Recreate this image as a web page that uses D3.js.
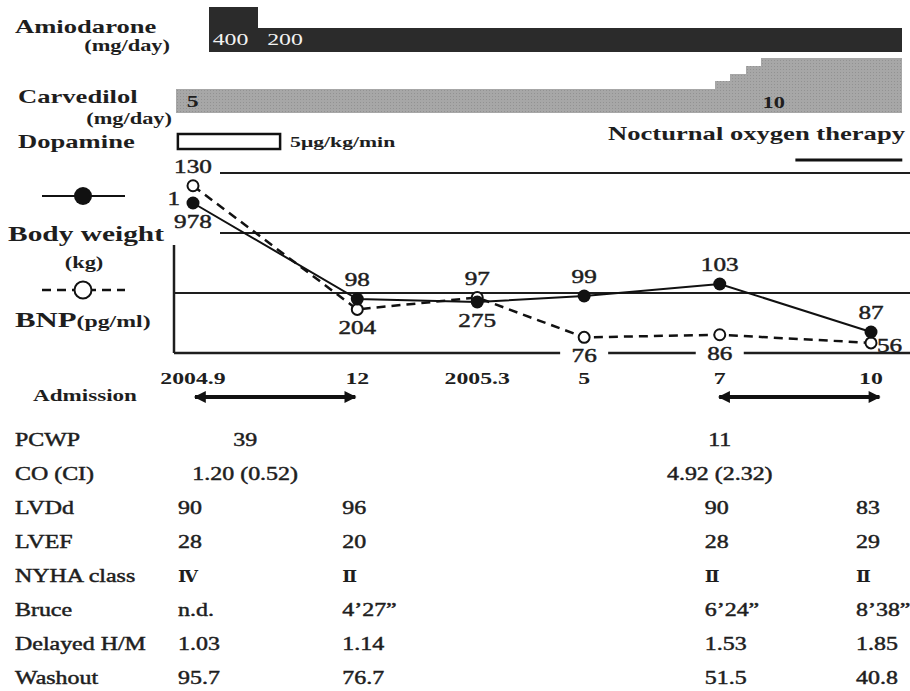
<!DOCTYPE html>
<html>
<head>
<meta charset="utf-8">
<script src="https://cdn.jsdelivr.net/npm/d3@7"></script>
<style>
  body { margin: 0; background: #fff; }
  text { font-family: "Liberation Serif", "Times New Roman", serif; fill: #1e1e1e; }
  text.thick { stroke: #1e1e1e; stroke-width: 0.45px; }
</style>
</head>
<body>
<script>
// visits (months after 2004.9) and labels
var visitMonth = [0, 3.15, 5.45, 7.5, 10.1, 13];
var visitLabel = ["2004.9", "12", "2005.3", "5", "7", "10"];
var bodyWeight = [130, 98, 97, 99, 103, 87];
var bnp = [1978, 204, 275, 76, 86, 56];

// drugs
var amioStart = [0.3, 1.25];
var amioDose = [400, 200];
var carvStart = [-0.33, 10.0, 10.3, 10.6, 10.9];
var carvDose = [5, 6.25, 7.5, 8.75, 10];
var drugEnd = 13.6;
var dopamine = [-0.29, 1.67];
var oxygen = [11.55, 13.6];
var admissions = [[0, 3.15], [10.05, 13.2]];

// table
var rowNames = ["PCWP", "CO (CI)", "LVDd", "LVEF", "NYHA class", "Bruce", "Delayed H/M", "Washout"];
var hemoMonth = [1, 10.1];
var pcwp = ["39", "11"];
var coci = ["1.20 (0.52)", "4.92 (2.32)"];
var echoVisit = [0, 1, 4, 5];
var lvdd = ["90", "96", "90", "83"];
var lvef = ["28", "20", "28", "29"];
var nyha = ["\u2163", "\u2161", "\u2161", "\u2161"];
var bruce = ["n.d.", "4\u201927\u201d", "6\u201924\u201d", "8\u201938\u201d"];
var delayedHM = ["1.03", "1.14", "1.53", "1.85"];
var washout = ["95.7", "76.7", "51.5", "40.8"];

var w = 910, h = 691;
var sx = 1.4; // the lettering in the figure is wide

var svg = d3.select("body").append("svg")
  .attr("width", w)
  .attr("height", h);

var defs = svg.append("defs");
var pat = defs.append("pattern")
  .attr("id", "grain")
  .attr("width", 3).attr("height", 3)
  .attr("patternUnits", "userSpaceOnUse");
pat.append("rect").attr("width", 3).attr("height", 3).attr("fill", "#a7a7a7");
pat.append("rect").attr("width", 1).attr("height", 1).attr("fill", "#929292");

defs.append("marker")
  .attr("id", "head")
  .attr("viewBox", "0 0 10 10")
  .attr("refX", 9).attr("refY", 5)
  .attr("markerWidth", 14).attr("markerHeight", 12)
  .attr("markerUnits", "userSpaceOnUse")
  .attr("orient", "auto-start-reverse")
  .append("path")
  .attr("d", "M0,0L10,5L0,10Z")
  .attr("fill", "#111");

function label(x, y, s, o) {
  o = o || {};
  return svg.append("text")
    .attr("class", o.weight == "bold" || o.fill ? null : "thick")
    .attr("transform", "translate(" + x + "," + y + ") scale(" + (o.sx || sx) + ",1)")
    .attr("font-size", o.size || 17)
    .attr("font-weight", o.weight || "normal")
    .attr("text-anchor", o.anchor || "start")
    .style("fill", o.fill || null)
    .style("font-family", o.family || null)
    .text(s);
}

// scales
var x = d3.scaleLinear().domain([0, 13]).range([193, 871]);
var yW = d3.scaleLinear().domain([80, 140]).range([353, 173]);
var yB = d3.scaleSymlog().constant(200).domain([0, 2000]).range([361, 185]);
var amioY = d3.scaleLinear().domain([200, 400]).range([28, 7]);
var amioBase = 52;
var carvY = d3.scaleLinear().domain([5, 10]).range([89, 58]);
var carvBase = 113;
var rowY = d3.scalePoint().domain(rowNames).range([446, 684]);

// ---- drug bars ----
label(15, 33, "Amiodarone", {size: 19, weight: "bold"});
label(170, 51, "(mg/day)", {size: 16, weight: "bold", anchor: "end"});
label(18, 103, "Carvedilol", {size: 19, weight: "bold"});
label(172, 124, "(mg/day)", {size: 16, weight: "bold", anchor: "end"});
label(18, 148, "Dopamine", {size: 19, weight: "bold"});

svg.selectAll(".amio")
  .data(amioDose)
  .enter().append("rect")
  .attr("class", "amio")
  .attr("x", function(d, i) { return x(amioStart[i]); })
  .attr("width", function(d, i) { return x(i < amioStart.length - 1 ? amioStart[i + 1] : drugEnd) - x(amioStart[i]); })
  .attr("y", function(d) { return amioY(d); })
  .attr("height", function(d) { return amioBase - amioY(d); })
  .attr("fill", "#2b2b2b")
  .attr("shape-rendering", "crispEdges");

amioDose.forEach(function(d, i) {
  label(x(amioStart[i]) + (i ? 9 : 4), 45, d, {size: 17, fill: "#f2f2f2"});
});

svg.selectAll(".carv")
  .data(carvDose)
  .enter().append("rect")
  .attr("class", "carv")
  .attr("x", function(d, i) { return x(carvStart[i]); })
  .attr("width", function(d, i) { return x(i < carvStart.length - 1 ? carvStart[i + 1] : drugEnd) - x(carvStart[i]); })
  .attr("y", function(d) { return carvY(d); })
  .attr("height", function(d) { return carvBase - carvY(d); })
  .attr("fill", "url(#grain)")
  .attr("shape-rendering", "crispEdges");

label(x(carvStart[0]) + 11, 107, carvDose[0], {size: 17, weight: "bold"});
label(x(carvStart[carvStart.length - 1]) + 1, 108, carvDose[carvDose.length - 1], {size: 16, weight: "bold"});

svg.append("rect")
  .attr("x", x(dopamine[0]))
  .attr("y", 134)
  .attr("width", x(dopamine[1]) - x(dopamine[0]))
  .attr("height", 15)
  .attr("fill", "#fff")
  .attr("stroke", "#111")
  .attr("stroke-width", 2.5);
label(x(dopamine[1]) + 10, 147, "5\u03bcg/kg/min", {size: 14, weight: "bold", sx: 1.55});

label(905, 140, "Nocturnal oxygen therapy", {size: 19, weight: "bold", anchor: "end"});
svg.append("line")
  .attr("x1", x(oxygen[0])).attr("x2", x(oxygen[1]))
  .attr("y1", 160).attr("y2", 160)
  .attr("stroke", "#111").attr("stroke-width", 3);

// ---- chart frame ----
[140, 120, 100, 80].forEach(function(v) {
  svg.append("line")
    .attr("x1", v > 100 ? 220 : 174).attr("x2", w)
    .attr("y1", yW(v)).attr("y2", yW(v))
    .attr("stroke", "#1e1e1e").attr("stroke-width", v == 80 ? 2.5 : 2);
});
svg.append("line")
  .attr("x1", 174).attr("x2", 174)
  .attr("y1", 245).attr("y2", yW(80))
  .attr("stroke", "#1e1e1e").attr("stroke-width", 2.5);

// legend
svg.append("line").attr("x1", 42).attr("x2", 125).attr("y1", 196).attr("y2", 196)
  .attr("stroke", "#111").attr("stroke-width", 2);
svg.append("circle").attr("cx", 83).attr("cy", 196).attr("r", 9).attr("fill", "#111");
label(86, 241, "Body weight", {size: 21, weight: "bold", anchor: "middle"});
label(84, 268, "(kg)", {size: 16, weight: "bold", anchor: "middle"});
svg.append("line").attr("x1", 42).attr("x2", 125).attr("y1", 290).attr("y2", 290)
  .attr("stroke", "#111").attr("stroke-width", 2.5).attr("stroke-dasharray", "9,6");
svg.append("circle").attr("cx", 83).attr("cy", 290).attr("r", 8.5)
  .attr("fill", "#fff").attr("stroke", "#111").attr("stroke-width", 2);
var bnpLab = svg.append("text")
  .attr("transform", "translate(15,327) scale(" + sx + ",1)")
  .attr("font-weight", "bold");
bnpLab.append("tspan").attr("font-size", 22).text("BNP");
bnpLab.append("tspan").attr("font-size", 17).text("(pg/ml)");

// x labels
visitLabel.forEach(function(d, i) {
  label(x(visitMonth[i]), 384, d, {size: 17, weight: "bold", anchor: "middle"});
});

// series
var pts = visitMonth.map(function(m, i) { return {m: m, w: bodyWeight[i], b: bnp[i]}; });

svg.append("path")
  .datum(pts)
  .attr("fill", "none")
  .attr("stroke", "#111")
  .attr("stroke-width", 2.5)
  .attr("stroke-dasharray", "9,6")
  .attr("d", d3.line().x(function(d) { return x(d.m); }).y(function(d) { return yB(d.b); }));

svg.append("path")
  .datum(pts)
  .attr("fill", "none")
  .attr("stroke", "#111")
  .attr("stroke-width", 2)
  .attr("d", d3.line().x(function(d) { return x(d.m); }).y(function(d) { return yW(d.w); }));

svg.selectAll(".bnp")
  .data(pts)
  .enter().append("circle")
  .attr("class", "bnp")
  .attr("cx", function(d) { return x(d.m); })
  .attr("cy", function(d) { return yB(d.b); })
  .attr("r", 5.5)
  .attr("fill", "#fff")
  .attr("stroke", "#111")
  .attr("stroke-width", 2);

svg.selectAll(".bw")
  .data(pts)
  .enter().append("circle")
  .attr("class", "bw")
  .attr("cx", function(d) { return x(d.m); })
  .attr("cy", function(d) { return yW(d.w); })
  .attr("r", 6.5)
  .attr("fill", "#111");

// value labels
pts.forEach(function(d, i) {
  var px = x(d.m);
  var top = Math.min(yW(d.w), yB(d.b));
  var bottom = Math.max(yW(d.w), yB(d.b));
  label(px, top - 13, d.w, {size: 18, anchor: "middle"});

  var s = String(d.b);
  if (i == pts.length - 1) {
    label(px + 6, yB(d.b) + 9, s, {size: 18});
    return;
  }
  if (s.length > 3) {
    label(px - 13, yW(d.w) + 2, s.slice(0, 1), {size: 18, anchor: "end"});
    s = s.slice(1);
  }
  var by = bottom + 25;
  if (by - 14 < yW(80) && by > yW(80)) {
    svg.append("rect")
      .attr("x", px - 24).attr("y", by - 15)
      .attr("width", 48).attr("height", 17)
      .attr("fill", "#fff");
  }
  label(px, by, s, {size: 18, anchor: "middle"});
});

// admission arrows
label(33, 401, "Admission", {size: 16.5, weight: "bold"});
admissions.forEach(function(a) {
  svg.append("line")
    .attr("x1", x(a[0]) + 2).attr("x2", x(a[1]) - 2)
    .attr("y1", 397).attr("y2", 397)
    .attr("stroke", "#111").attr("stroke-width", 4)
    .attr("marker-start", "url(#head)")
    .attr("marker-end", "url(#head)");
});

// ---- table ----
var tsize = 18, tsx = 1.33;
rowNames.forEach(function(r) {
  label(15, rowY(r), r, {size: tsize, sx: tsx});
});

pcwp.forEach(function(v, i) {
  label(x(hemoMonth[i]), rowY("PCWP"), v, {size: tsize, sx: tsx, anchor: "middle"});
});
coci.forEach(function(v, i) {
  label(x(hemoMonth[i]), rowY("CO (CI)"), v, {size: tsize, sx: tsx, anchor: "middle"});
});

var echoRows = [["LVDd", lvdd], ["LVEF", lvef], ["NYHA class", nyha], ["Bruce", bruce],
  ["Delayed H/M", delayedHM], ["Washout", washout]];
echoRows.forEach(function(r) {
  r[1].forEach(function(v, i) {
    var o = {size: tsize, sx: tsx};
    if (r[0] == "NYHA class") { o = {size: 16, weight: "bold", family: "DejaVu Serif", sx: 1.1}; }
    label(x(visitMonth[echoVisit[i]]) - 15, rowY(r[0]), v, o);
  });
});
</script>
</body>
</html>
